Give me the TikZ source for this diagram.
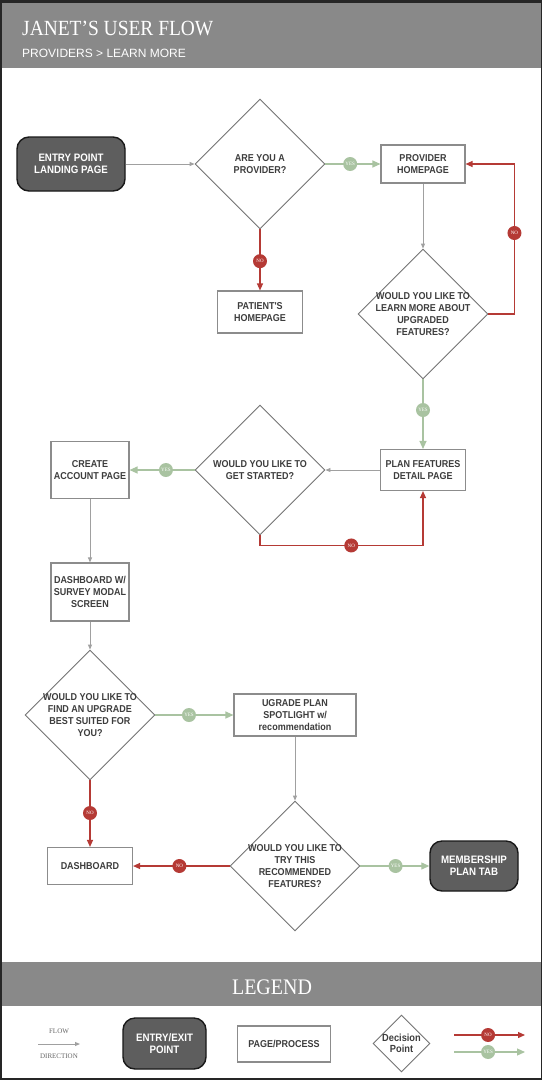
\documentclass[tikz,border=0pt]{standalone}
\usepackage{fontspec}
\setmainfont{Liberation Serif}
\setsansfont{Liberation Sans}
\newfontfamily\boxfont{Liberation Sans}[FakeStretch=0.9]
\newfontfamily\headfont{Liberation Serif}[FakeStretch=0.9]
\usetikzlibrary{shapes.geometric,arrows.meta}

\definecolor{frame}{HTML}{262626}
\definecolor{band}{HTML}{898989}
\definecolor{ink}{HTML}{3D3D3D}
\definecolor{edge}{HTML}{8C8C8C}
\definecolor{flow}{HTML}{A0A0A0}
\definecolor{yesgreen}{HTML}{A9C3A1}
\definecolor{nored}{HTML}{B53A35}
\definecolor{endfill}{HTML}{5E5E5E}

\tikzset{
  box/.style={draw=edge,line width=1.1pt,fill=white,inner sep=0pt,align=center,text=ink,
    font=\boxfont\bfseries\fontsize{10}{11.7}\selectfont},
  endbox/.style={draw=black!90,line width=1.4pt,fill=endfill,rounded corners=12pt,inner sep=0pt,
    align=center,text=white,font=\boxfont\bfseries\fontsize{10.8}{12}\selectfont},
  decision/.style={diamond,draw=black!55,line width=0.9pt,minimum width=130pt,minimum height=130pt,inner sep=0pt},
  asks/.style={inner sep=0pt,align=center,text=ink,font=\boxfont\bfseries\fontsize{10}{11.7}\selectfont},
  flowline/.style={draw=flow,line width=0.9pt,-{Triangle[length=5pt,width=4pt]}},
  yesline/.style={draw=yesgreen,line width=1.2pt,-{Triangle[length=8pt,width=7pt]}},
  noline/.style={draw=nored,line width=1.2pt,-{Triangle[length=7pt,width=6pt]}},
  yesdot/.style={circle,fill=yesgreen,text=white,inner sep=0pt,minimum size=14pt,font=\fontsize{5}{5}\selectfont},
  nodot/.style={yesdot,fill=nored},
  heading/.style={inner sep=0pt,text=white}
}

\begin{document}
\begin{tikzpicture}[x=1pt,y=-1pt]
\useasboundingbox (0,0) rectangle (542,1080);
\fill[frame] (0,0) rectangle (542,1080);
\fill[white] (1.5,2.5) rectangle (540.5,1077.5);
\fill[band] (1.5,2.5) rectangle (540.5,68);
\fill[band] (1.5,962) rectangle (540.5,1006);

\node[heading,anchor=base west,font=\headfont\fontsize{21.6}{24}\selectfont] (title) at (22,35) {JANET’S USER FLOW};
\node[heading,anchor=base west,font=\sffamily\fontsize{12}{14}\selectfont] (subtitle) at (22,57.3) {PROVIDERS > LEARN MORE};

\node[endbox,minimum width=108pt,minimum height=54pt] (entry) at (71,164) {ENTRY POINT\\LANDING PAGE};
\node[decision] (provq) at (260,164) {};
\node[asks] at (provq) {ARE YOU A\\PROVIDER?};
\node[box,minimum width=84pt,minimum height=38pt] (provhome) at (423,164) {PROVIDER\\HOMEPAGE};
\node[box,minimum width=85pt,minimum height=42pt] (patient) at (260,312) {PATIENT'S\\HOMEPAGE};
\node[decision] (learnq) at (423,314) {};
\node[asks] at (learnq) {WOULD YOU LIKE TO\\LEARN MORE ABOUT\\UPGRADED\\FEATURES?};
\node[box,minimum width=85pt,minimum height=41pt] (plan) at (423,470) {PLAN FEATURES\\DETAIL PAGE};
\node[decision] (startq) at (260,470) {};
\node[asks] at (startq) {WOULD YOU LIKE TO\\GET STARTED?};
\node[box,minimum width=78pt,minimum height=57pt] (account) at (90,470) {CREATE\\ACCOUNT PAGE};
\node[box,minimum width=78pt,minimum height=58pt] (survey) at (90,592) {DASHBOARD W/\\SURVEY MODAL\\SCREEN};
\node[decision] (findq) at (90,715) {};
\node[asks] at (findq) {WOULD YOU LIKE TO\\FIND AN UPGRADE\\BEST SUITED FOR\\YOU?};
\node[box,minimum width=122pt,minimum height=42pt] (spotlight) at (295,715) {UGRADE PLAN\\SPOTLIGHT w/\\recommendation};
\node[decision] (tryq) at (295,866) {};
\node[asks] at (tryq) {WOULD YOU LIKE TO\\TRY THIS\\RECOMMENDED\\FEATURES?};
\node[box,minimum width=85pt,minimum height=37pt] (dash) at (90,866) {DASHBOARD};
\node[endbox,minimum width=88pt,minimum height=50pt] (member) at (474,866) {MEMBERSHIP\\PLAN TAB};

\draw[flowline] (entry.east) -- (provq.west);
\draw[yesline] (provq.east) -- (provhome.west) node[yesdot,pos=0.45] {YES};
\draw[noline] (provq.south) -- (patient.north) node[nodot,pos=0.52] {NO};
\draw[flowline] (provhome.south) -- (learnq.north);
\draw[noline] (learnq.east) -- ++(26,0) |- (provhome.east) node[nodot,pos=0.27] {NO};
\draw[yesline] (learnq.south) -- (plan.north) node[yesdot,pos=0.44] {YES};
\draw[flowline] (plan.west) -- (startq.east);
\draw[yesline] (startq.west) -- (account.east) node[yesdot,pos=0.44] {YES};
\draw[noline] (startq.south) -- ++(0,10) -| (plan.south) node[nodot,pos=0.28] {NO};
\draw[flowline] (account.south) -- (survey.north);
\draw[flowline] (survey.south) -- (findq.north);
\draw[yesline] (findq.east) -- (spotlight.west) node[yesdot,pos=0.43] {YES};
\draw[noline] (findq.south) -- (dash.north) node[nodot,pos=0.49] {NO};
\draw[flowline] (spotlight.south) -- (tryq.north);
\draw[noline] (tryq.west) -- (dash.east) node[nodot,pos=0.52] {NO};
\draw[yesline] (tryq.east) -- (member.west) node[yesdot,pos=0.51] {YES};

\node[heading,anchor=base,font=\headfont\fontsize{22.2}{24}\selectfont] (legend) at (272,994) {LEGEND};
\node[inner sep=0pt,text=black!60,font=\fontsize{7}{8}\selectfont] (flowtxt) at (59,1031) {FLOW};
\node[inner sep=0pt,text=black!60,font=\fontsize{7}{8}\selectfont] (dirtxt) at (59,1056) {DIRECTION};
\coordinate (flowa) at (38,1044);
\coordinate (flowb) at (80,1044);
\draw[flowline] (flowa) -- (flowb);
\node[endbox,minimum width=83pt,minimum height=51pt] (keyend) at (164.5,1043.5) {ENTRY/EXIT\\POINT};
\node[box,minimum width=93.5pt,minimum height=36pt] (keypage) at (284,1044) {PAGE/PROCESS};
\node[decision,minimum width=57pt,minimum height=57pt] (keydec) at (401.5,1043.5) {};
\node[asks,font=\boxfont\bfseries\fontsize{10.3}{11.3}\selectfont] at (keydec) {Decision\\Point};
\coordinate (noa) at (454,1035);
\coordinate (nob) at (525,1035);
\coordinate (yesa) at (454,1052);
\coordinate (yesb) at (525,1052);
\draw[noline] (noa) -- (nob) node[nodot,pos=0.48] {NO};
\draw[yesline] (yesa) -- (yesb) node[yesdot,pos=0.48] {YES};
\end{tikzpicture}
\end{document}
